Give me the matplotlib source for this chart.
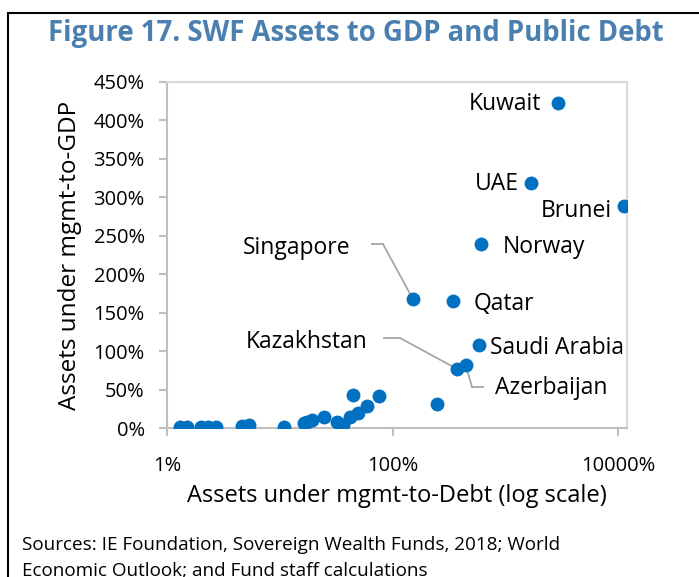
import numpy as np
import matplotlib
matplotlib.use('Agg')
import matplotlib.pyplot as plt
from matplotlib.lines import Line2D
from matplotlib.patches import Rectangle
from matplotlib.ticker import FixedLocator, FuncFormatter, NullLocator

plt.rcParams['font.family'] = ['Open Sans', 'DejaVu Sans']

# unlabelled funds (x: assets-to-debt %, y: assets-to-GDP %)
other_x = [1.3, 1.5, 2.0, 2.3, 2.7, 4.6, 5.3, 10.8, 16.3, 17.5, 19.3, 24.5,
           32, 36, 42, 49, 59, 45, 76, 250]
other_y = [1.5, 1.5, 1.5, 1.5, 1.5, 3, 4, 1.5, 6, 8, 10, 14,
           8, 4, 14, 19, 28, 43, 41, 31]

# labelled countries
countries = ['Kuwait', 'UAE', 'Brunei', 'Norway', 'Singapore', 'Qatar',
             'Saudi Arabia', 'Kazakhstan', 'Azerbaijan']
country_x = [2930, 1690, 11300, 606, 151, 341, 581, 371, 445]
country_y = [423, 319, 289, 239, 168, 165, 108, 77, 82]

x_ticks = [1, 100, 10000]
y_ticks = list(range(0, 451, 50))

blue = '#0070c0'
grey = '#d9d9d9'

W, H = 699, 577
fig = plt.figure(figsize=(W / 100, H / 100), dpi=100)
ax = fig.add_axes([167 / W, (H - 428) / H, 460 / W, 346 / H])

ax.plot(other_x, other_y, 'o', color=blue, ms=10, mec='none', zorder=3)
ax.plot(country_x, country_y, 'o', color=blue, ms=10, mec='none', zorder=3)

ax.set_xscale('log')
ax.set_xlim(1, 12000)
ax.set_ylim(0, 450)
ax.xaxis.set_major_locator(FixedLocator(x_ticks))
ax.xaxis.set_minor_locator(NullLocator())
ax.xaxis.set_major_formatter(FuncFormatter(lambda v, p: '%d%%' % v))
ax.yaxis.set_major_locator(FixedLocator(y_ticks))
ax.yaxis.set_major_formatter(FuncFormatter(lambda v, p: '%d%%' % v))
ax.tick_params(axis='both', labelsize=14.5, color='#bfbfbf', length=6,
               width=1.5)
ax.tick_params(axis='x', pad=14)
ax.tick_params(axis='y', pad=10)
for s in ax.spines.values():
    s.set_color(grey)
    s.set_linewidth(1.5)
ax.spines['bottom'].set_color('#bfbfbf')
ax.spines['left'].set_color('#bfbfbf')

ax.set_xlabel('Assets under mgmt-to-Debt (log scale)', fontsize=17, labelpad=6)
ax.set_ylabel('Assets under mgmt-to-GDP', fontsize=17.5, labelpad=8)

# label positions in figure pixels (from top), alignment
lab_pos = {
    'Kuwait': (541, 104, 'right'),
    'UAE': (519, 184, 'right'),
    'Brunei': (612, 211, 'right'),
    'Norway': (503, 247, 'left'),
    'Singapore': (243, 248, 'left'),
    'Qatar': (474, 304, 'left'),
    'Saudi Arabia': (490, 348, 'left'),
    'Kazakhstan': (246, 342, 'left'),
    'Azerbaijan': (495, 388, 'left'),
}
for name in countries:
    px, py, ha = lab_pos[name]
    fig.text(px / W, (H - py) / H, name, ha=ha, va='center', fontsize=16.5)

# leader lines: (stub start, elbow) in figure pixels, then to the point
leaders = {
    'Singapore': [(372, 244), (383, 244)],
    'Kazakhstan': [(384, 338), (400, 338)],
    'Azerbaijan': [(483, 387), (472, 387)],
}
for name, pts in leaders.items():
    i = countries.index(name)
    (x0, y0), (x1, y1) = pts
    fig.add_artist(Line2D([x0 / W, x1 / W], [(H - y0) / H, (H - y1) / H],
                          transform=fig.transFigure, color='#a6a6a6', lw=1.3))
    ax.annotate('', xy=(country_x[i], country_y[i]), xycoords='data',
                xytext=(x1, H - y1), textcoords='figure pixels',
                arrowprops=dict(arrowstyle='-', color='#a6a6a6', lw=1.3,
                                shrinkA=0, shrinkB=2), zorder=2)

fig.text(356 / W, (H - 34) / H, 'Figure 17. SWF Assets to GDP and Public Debt',
         ha='center', va='center', fontsize=19.8, fontweight='bold',
         color='#4a7fb0')

fig.text(22 / W, (H - 545) / H,
         'Sources: IE Foundation, Sovereign Wealth Funds, 2018; World',
         ha='left', va='center', fontsize=13.6)
fig.text(22 / W, (H - 571) / H,
         'Economic Outlook; and Fund staff calculations',
         ha='left', va='center', fontsize=13.6)

fig.add_artist(Rectangle((8 / W, -0.1), 1.1, (H - 13) / H + 0.1,
                         transform=fig.transFigure, fill=False,
                         edgecolor='black', lw=1.5))

fig.savefig('out.png', dpi=100)
